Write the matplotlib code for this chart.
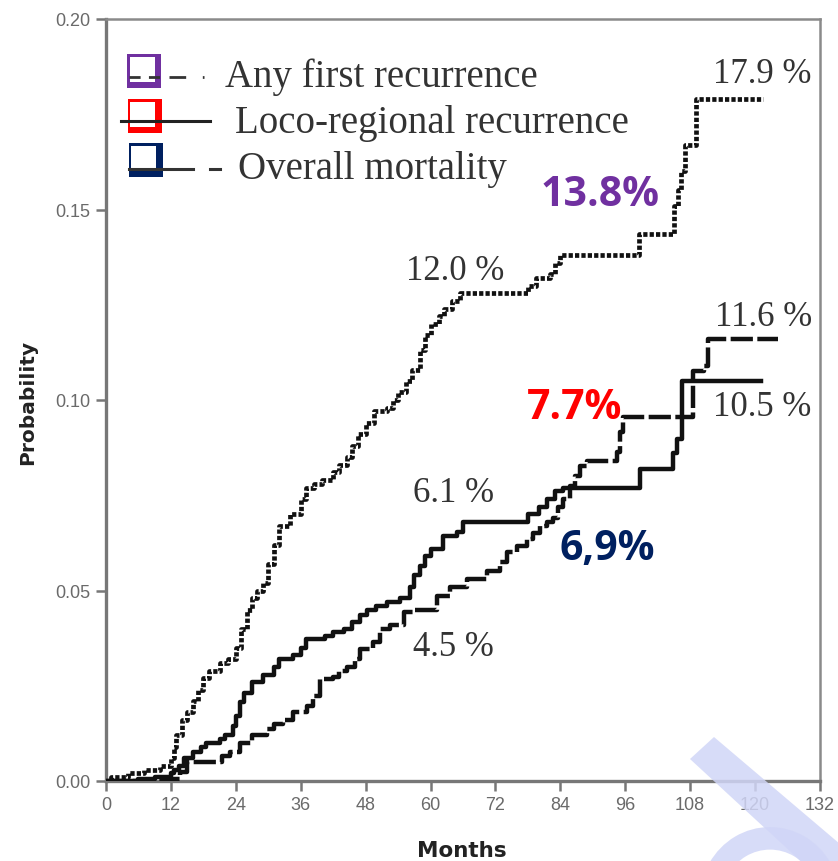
import matplotlib
matplotlib.use("Agg")
import matplotlib.pyplot as plt
from matplotlib.patches import Rectangle, Polygon, Wedge
from matplotlib.lines import Line2D

# Cumulative incidence (step functions), months vs probability
t_any = [0, 1, 4, 7, 10, 12, 12.5, 13, 14, 15, 16, 17, 18, 19, 21, 22.5, 24, 25, 26, 27,
         28, 29, 30, 31, 32, 34, 36, 37, 38.5, 40, 42, 43, 44.5, 45.5, 46.5, 48, 49.5, 52, 53, 54,
         55.5, 56.5, 58, 59, 60, 61.5, 62.5, 64, 65.5, 78, 79.5, 82, 83, 84, 98.5, 105, 105.7,
         106.3, 107, 109, 121.5]
p_any = [0.000, 0.001, 0.002, 0.003, 0.004, 0.006, 0.009, 0.012, 0.016, 0.018, 0.021, 0.024,
         0.027, 0.029, 0.031, 0.032, 0.035, 0.040, 0.045, 0.048, 0.050, 0.052, 0.057, 0.062,
         0.067, 0.070, 0.074, 0.077, 0.078, 0.079, 0.081, 0.083, 0.085, 0.088, 0.091, 0.094,
         0.097, 0.098, 0.100, 0.102, 0.105, 0.108, 0.113, 0.117, 0.120, 0.122, 0.124, 0.126,
         0.128, 0.130, 0.132, 0.133, 0.136, 0.138, 0.1435, 0.151, 0.155, 0.160, 0.167, 0.179,
         0.179]

t_loco = [0, 6, 9, 12, 12.5, 13.5, 14.5, 16, 17.5, 18.5, 21, 22, 23.5, 24, 24.8, 25.5, 27, 29,
          31, 32, 34.5, 36, 37, 40.5, 42, 44, 45.5, 47, 48.2, 50, 52, 54.3, 56.2, 57, 58, 59, 60,
          62.3, 64.9, 66, 78, 80, 81.5, 83, 84.5, 98.7, 104.8, 105.5, 106.5, 121]
p_loco = [0, 0.0005, 0.001, 0.002, 0.003, 0.004, 0.006, 0.0076, 0.009, 0.010, 0.011, 0.012,
          0.0145, 0.017, 0.0207, 0.023, 0.026, 0.0277, 0.030, 0.032, 0.033, 0.035, 0.0373,
          0.038, 0.039, 0.040, 0.0417, 0.0435, 0.045, 0.046, 0.047, 0.048, 0.051, 0.054,
          0.0565, 0.059, 0.061, 0.0643, 0.0653, 0.068, 0.070, 0.072, 0.074, 0.076, 0.077,
          0.082, 0.086, 0.0898, 0.105, 0.105]

t_mort = [0, 12, 13.7, 15, 21.5, 22.9, 24.8, 27, 29.7, 31, 32.7, 34.6, 37.1, 38.3, 39.5, 42, 43,
          44.5, 46, 47, 49.4, 50.7, 52.5, 55, 57, 59.9, 61.2, 63.6, 66.7, 70.4, 72.8, 74.1, 76,
          77.8, 79, 80.2, 81.5, 82.6, 83.5, 84.5, 85.8, 86.7, 87.6, 88.9, 94.5, 95, 95.6, 108.5,
          110.5, 111.3, 124.2]
p_mort = [0, 0.0005, 0.0024, 0.005, 0.0065, 0.0076, 0.010, 0.012, 0.0136, 0.015, 0.016, 0.018,
          0.0197, 0.0223, 0.0268, 0.0272, 0.029, 0.030, 0.032, 0.0346, 0.0365, 0.040, 0.041,
          0.0443, 0.045, 0.045, 0.0486, 0.051, 0.053, 0.055, 0.0575, 0.060, 0.0617, 0.0635,
          0.065, 0.067, 0.068, 0.069, 0.072, 0.074, 0.0774, 0.080, 0.0827, 0.084, 0.0863,
          0.0916, 0.0955, 0.1075, 0.109, 0.116, 0.116]

legend_labels = ["Any first recurrence", "Loco-regional recurrence", "Overall mortality"]
legend_colors = ["#7030A0", "#FF0000", "#002060"]

x_ticks = list(range(0, 133, 12))
y_ticks = [0.00, 0.05, 0.10, 0.15, 0.20]

W, H = 838, 862
fig = plt.figure(figsize=(W / 100, H / 100), dpi=100)
fig.patch.set_facecolor("white")


def fx(px):
    return px / W


def fy(py):
    return 1 - py / H


ax = fig.add_axes([fx(106), fy(782), fx(820) - fx(106), fy(20) - fy(782)])
ax.set_xlim(0, 132)
ax.set_ylim(0, 0.20)

ink = "#111111"
ax.step(t_any, p_any, where="post", color=ink, lw=3.4, linestyle=(0, (0.9, 0.45)),
        solid_capstyle="butt", zorder=3)
ax.step(t_loco, p_loco, where="post", color=ink, lw=3.2, zorder=3)
ax.step(t_mort, p_mort, where="post", color=ink, lw=3.2, linestyle=(0, (5, 1.0)), zorder=3)

ax.set_xticks(x_ticks)
ax.set_yticks(y_ticks)
ax.set_yticklabels([f"{v:.2f}" for v in y_ticks])
ax.tick_params(axis="both", direction="out", length=7, width=1.8, color="#777777",
               labelsize=13, labelcolor="#6a6a6a", pad=4)
for lab in ax.get_xticklabels() + ax.get_yticklabels():
    lab.set_fontfamily("Liberation Sans")

for side in ["left", "bottom"]:
    ax.spines[side].set_color("#777777")
    ax.spines[side].set_linewidth(2.4)
for side in ["top", "right"]:
    ax.spines[side].set_color("#8a8a8a")
    ax.spines[side].set_linewidth(1.8)

fig.text(fx(462), fy(851), "Months", ha="center", va="center", fontsize=15.5,
         fontweight="bold", family="DejaVu Sans", color="#222222")
fig.text(fx(28), fy(402), "Probability", ha="center", va="center", rotation=90,
         fontsize=14.5, fontweight="bold", family="DejaVu Sans", color="#222222")

# Value labels on the curves
serif = "Liberation Serif"
txt = "#333333"
for x, y, s in [(121.3, 0.1856, "17.9 %"), (64.5, 0.1339, "12.0 %"),
                (121.6, 0.1218, "11.6 %"), (121.3, 0.0982, "10.5 %"),
                (64.2, 0.0756, "6.1 %"), (64.2, 0.0352, "4.5 %")]:
    ax.text(x, y, s, ha="center", va="center", fontsize=25, family=serif, color=txt, zorder=5)

for x, y, s, c in [(91.3, 0.154, "13.8%", "#7030A0"), (86.7, 0.098, "7.7%", "#FF0000"),
                   (92.6, 0.0609, "6,9%", "#002060")]:
    ax.text(x, y, s, ha="center", va="center", fontsize=29.5, family="Open Sans",
            fontweight="bold", color=c, zorder=5)

# Legend drawn by hand: coloured box, line sample, label
rows = [(55, 78, 225, 77), (100, 122, 235, 123), (144, 170, 238, 169)]
for i, (top, ly, tx, ty) in enumerate(rows):
    col = legend_colors[i]
    left = 127 + i * 0.8
    size = 34
    fig.patches.append(Rectangle((fx(left), fy(top + size)), fx(size), size / H,
                                 transform=fig.transFigure, facecolor=col, edgecolor="none",
                                 zorder=4))
    fig.patches.append(Rectangle((fx(left + 2.5), fy(top + size - 6)), fx(size - 9),
                                 (size - 8.5) / H, transform=fig.transFigure,
                                 facecolor="white", edgecolor="none", zorder=5))
    if i == 0:
        fig.lines.append(Line2D([fx(129), fx(160)], [fy(ly), fy(ly)], transform=fig.transFigure,
                                color="#333333", lw=2.0, linestyle=(0, (4, 3)), zorder=6))
        fig.lines.append(Line2D([fx(169), fx(204)], [fy(ly), fy(ly)], transform=fig.transFigure,
                                color="#333333", lw=2.0, linestyle=(0, (6, 6)), zorder=6))
    elif i == 1:
        fig.lines.append(Line2D([fx(121), fx(210)], [fy(ly), fy(ly)], transform=fig.transFigure,
                                color="#222222", lw=2.2, zorder=6))
    else:
        fig.lines.append(Line2D([fx(129), fx(193)], [fy(ly), fy(ly)], transform=fig.transFigure,
                                color="#333333", lw=2.2, zorder=6))
        fig.lines.append(Line2D([fx(210), fx(220)], [fy(ly), fy(ly)], transform=fig.transFigure,
                                color="#333333", lw=2.2, zorder=6))
    fig.text(fx(tx), fy(ty), legend_labels[i], ha="left", va="center", fontsize=28,
             family=serif, color=txt, zorder=6)

# Faint watermark stroke in the lower right corner
wm = (0.82, 0.84, 0.97)
fig.patches.append(Polygon([(fx(690), fy(760)), (fx(714), fy(738)), (fx(860), fy(862)),
                            (fx(820), fy(880))], closed=True, transform=fig.transFigure,
                           facecolor=wm, edgecolor="none", alpha=0.85, zorder=1))
fig.patches.append(Wedge((fx(770), fy(900)), 70 / W, 30, 150, width=22 / W,
                         transform=fig.transFigure, facecolor=wm, edgecolor="none",
                         alpha=0.85, zorder=1))

fig.savefig("out.png", dpi=100, facecolor="white")
